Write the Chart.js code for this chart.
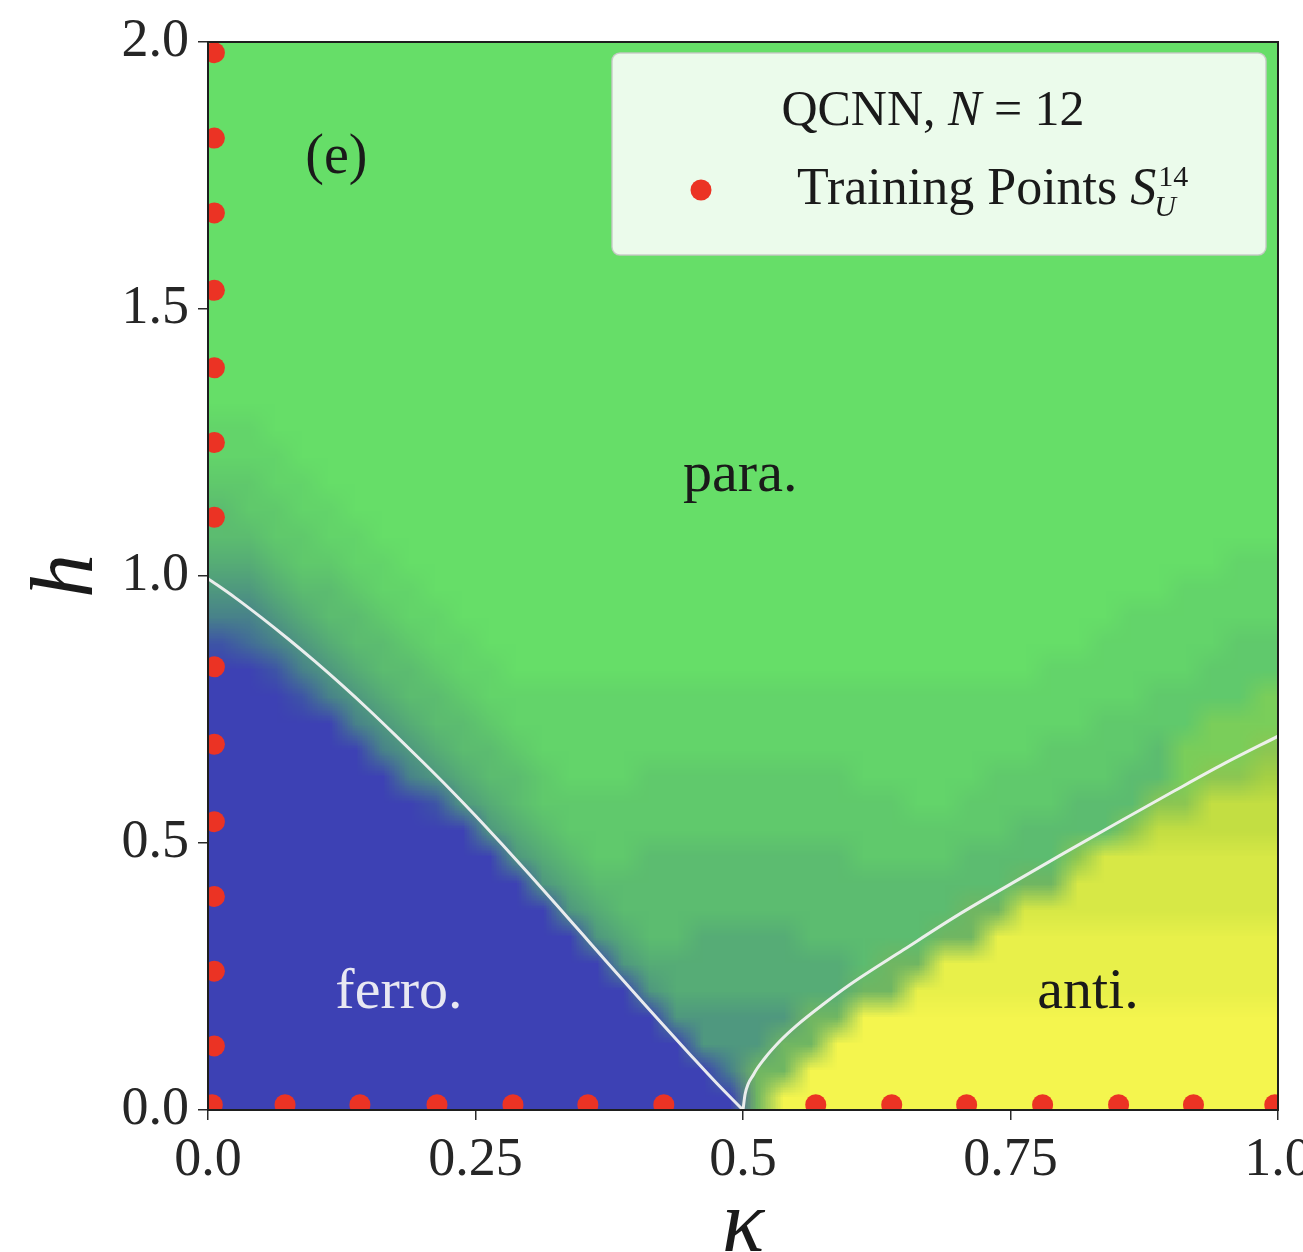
<!DOCTYPE html>
<html>
<head>
<meta charset="utf-8">
<script src="https://cdn.jsdelivr.net/npm/chart.js@4.4.1/dist/chart.umd.min.js"></script>
<style>
  html, body { margin: 0; padding: 0; background: #ffffff; }
  #wrap { width: 1303px; height: 1252px; }
</style>
</head>
<body>
<div id="wrap"><canvas id="phaseChart"></canvas></div>
<script>
// axes
const kappaRange = [0, 1];
const hRange = [0, 2];
const kappaTickLabels = ["0.0", "0.25", "0.5", "0.75", "1.0"];
const hTickLabels = ["0.0", "0.5", "1.0", "1.5", "2.0"];

// training points S_U^14 (left column at kappa ~ 0, bottom row at h ~ 0)
const trainKappa = [0.006, 0.006, 0.006, 0.006, 0.006, 0.006, 0.006, 0.006, 0.006, 0.006, 0.006, 0.006, 0.006,
                    0.004, 0.072, 0.142, 0.214, 0.285, 0.355, 0.426, 0.568, 0.639, 0.709, 0.78, 0.851, 0.921, 0.997];
const trainH = [0.12, 0.26, 0.40, 0.54, 0.685, 0.83, 1.11, 1.25, 1.39, 1.535, 1.68, 1.82, 1.98,
                0.01, 0.01, 0.01, 0.01, 0.01, 0.01, 0.01, 0.01, 0.01, 0.01, 0.01, 0.01, 0.01, 0.01];

// white phase boundaries
const ferroKappa = [0, 0.025, 0.05, 0.075, 0.1, 0.125, 0.15, 0.175, 0.2, 0.225, 0.25,
                    0.275, 0.3, 0.325, 0.35, 0.375, 0.4, 0.425, 0.45, 0.475, 0.5];
const ferroH = [0.995, 0.96, 0.922, 0.882, 0.84, 0.796, 0.75, 0.702, 0.653, 0.603, 0.551,
                0.497, 0.442, 0.386, 0.329, 0.272, 0.216, 0.16, 0.105, 0.051, 0];
const antiKappa = [0.5, 0.502, 0.51, 0.52, 0.535, 0.55, 0.575, 0.6, 0.65, 0.7, 0.75, 0.8, 0.85, 0.9, 0.95, 1.0];
const antiH = [0, 0.03, 0.067, 0.096, 0.13, 0.158, 0.198, 0.235, 0.30, 0.364, 0.423, 0.481, 0.538, 0.594, 0.649, 0.70];

// phase labels
const regionText = ["(e)", "para.", "ferro.", "anti."];
const regionKappa = [0.091, 0.444, 0.119, 0.775];
const regionH = [1.755, 1.16, 0.191, 0.191];

// predicted phase map: 40 x 40 cells, kappa step 0.025, h step 0.05, first row is the top (h = 2)
// B blue (ferro), 1..8 blue -> green, G green (para), n..Y green -> yellow (anti), o olive
const phaseRows = [
  "GGGGGGGGGG GGGGGGGGGG GGGGGGGGGG GGGGGGGGGG",
  "GGGGGGGGGG GGGGGGGGGG GGGGGGGGGG GGGGGGGGGG",
  "GGGGGGGGGG GGGGGGGGGG GGGGGGGGGG GGGGGGGGGG",
  "GGGGGGGGGG GGGGGGGGGG GGGGGGGGGG GGGGGGGGGG",
  "GGGGGGGGGG GGGGGGGGGG GGGGGGGGGG GGGGGGGGGG",
  "GGGGGGGGGG GGGGGGGGGG GGGGGGGGGG GGGGGGGGGG",
  "GGGGGGGGGG GGGGGGGGGG GGGGGGGGGG GGGGGGGGGG",
  "GGGGGGGGGG GGGGGGGGGG GGGGGGGGGG GGGGGGGGGG",
  "GGGGGGGGGG GGGGGGGGGG GGGGGGGGGG GGGGGGGGGG",
  "GGGGGGGGGG GGGGGGGGGG GGGGGGGGGG GGGGGGGGGG",
  "GGGGGGGGGG GGGGGGGGGG GGGGGGGGGG GGGGGGGGGG",
  "GGGGGGGGGG GGGGGGGGGG GGGGGGGGGG GGGGGGGGGG",
  "GGGGGGGGGG GGGGGGGGGG GGGGGGGGGG GGGGGGGGGG",
  "GGGGGGGGGG GGGGGGGGGG GGGGGGGGGG GGGGGGGGGG",
  "88GGGGGGGG GGGGGGGGGG GGGGGGGGGG GGGGGGGGGG",
  "888GGGGGGG GGGGGGGGGG GGGGGGGGGG GGGGGGGGGG",
  "7788GGGGGG GGGGGGGGGG GGGGGGGGGG GGGGGGGGGG",
  "67788GGGGG GGGGGGGGGG GGGGGGGGGG GGGGGGGGGG",
  "667788GGGG GGGGGGGGGG GGGGGGGGGG GGGGGGGGGG",
  "5567788GGG GGGGGGGGGG GGGGGGGGGG GGGGGGGG88",
  "44566788GG GGGGGGGGGG GGGGGGGGGG GGGGGG8888",
  "334566788G GGGGGGGGGG GGGGGGGGGG GGGG888888",
  "1234566788 GGGGGGGGGG GGGGGGGGGG GGG8888877",
  "BB13456678 8GGGGGGGGG GGGGGGGGGG G888888777",
  "BBB1345667 8888888888 8888888888 888887777n",
  "BBBBB34566 7888888888 8888888888 8887777nnn",
  "BBBBBB3456 6788888888 8888888888 877776nnnp",
  "BBBBBBB345 6678887777 7777888887 777766nppq",
  "BBBBBBBB14 5677777777 7777778877 77666pprrr",
  "BBBBBBBBBB 4567777777 7777777777 6666prrrrr",
  "BBBBBBBBBB B456776666 6666777766 66psssssss",
  "BBBBBBBBBB BB45666666 6666666666 oossssssss",
  "BBBBBBBBBB BBB4566666 66666666oo ssssssssss",
  "BBBBBBBBBB BBBB456655 5566666oot tttttttttt",
  "BBBBBBBBBB BBBBB45555 55556oottt tttttttttt",
  "BBBBBBBBBB BBBBBB4555 5555ootttt tttttttttt",
  "BBBBBBBBBB BBBBBBB444 44ooYYYYYY YYYYYYYYYY",
  "BBBBBBBBBB BBBBBBBB44 4ooYYYYYYY YYYYYYYYYY",
  "BBBBBBBBBB BBBBBBBBB3 ooYYYYYYYY YYYYYYYYYY",
  "BBBBBBBBBB BBBBBBBBBB oYYYYYYYYY YYYYYYYYYY"
];

const phaseColors = {
  B: [61, 65, 180], "1": [62, 85, 166], "2": [66, 108, 152], "3": [72, 130, 138],
  "4": [79, 152, 127], "5": [86, 172, 118], "6": [92, 188, 112], "7": [96, 201, 108],
  "8": [99, 212, 106], G: [102, 222, 104],
  n: [122, 206, 90], o: [112, 182, 98], p: [140, 198, 82], q: [165, 208, 68],
  r: [195, 222, 66], s: [215, 232, 70], t: [232, 240, 74], Y: [244, 245, 78]
};

const serif = "'Liberation Serif', 'DejaVu Serif', serif";
Chart.defaults.font.family = serif;
Chart.defaults.color = "#262626";

// draws the phase map under the datasets
const phaseMap = {
  id: "phaseMap",
  beforeDatasetsDraw(chart) {
    const { ctx, scales: { x, y } } = chart;
    const rows = phaseRows.map(r => r.replace(/ /g, ""));
    const nRows = rows.length;
    const nCols = rows[0].length;
    const off = document.createElement("canvas");
    off.width = nCols;
    off.height = nRows;
    const octx = off.getContext("2d");
    const img = octx.createImageData(nCols, nRows);
    rows.forEach((row, r) => {
      for (let c = 0; c < nCols; c++) {
        const col = phaseColors[row[c]] || phaseColors.G;
        const i = (r * nCols + c) * 4;
        img.data[i] = col[0];
        img.data[i + 1] = col[1];
        img.data[i + 2] = col[2];
        img.data[i + 3] = 255;
      }
    });
    octx.putImageData(img, 0, 0);

    const left = x.getPixelForValue(kappaRange[0]);
    const right = x.getPixelForValue(kappaRange[1]);
    const top = y.getPixelForValue(hRange[1]);
    const bottom = y.getPixelForValue(hRange[0]);
    ctx.save();
    ctx.imageSmoothingEnabled = true;
    ctx.drawImage(off, left, top, right - left, bottom - top);
    ctx.restore();
  }
};

// frame, region labels and legend on top
const overlay = {
  id: "overlay",
  afterDatasetsDraw(chart) {
    const { ctx, chartArea: a, scales: { x, y } } = chart;
    ctx.save();

    // frame
    ctx.strokeStyle = "#1e1e1e";
    ctx.lineWidth = 2;
    ctx.strokeRect(a.left, a.top, a.right - a.left, a.bottom - a.top);

    // region labels
    ctx.textBaseline = "alphabetic";
    ctx.textAlign = "left";
    regionText.forEach((t, i) => {
      ctx.font = (i === 0 ? "56px " : "58px ") + serif;
      ctx.fillStyle = t === "ferro." ? "#e8e8f2" : "#1a1a1a";
      ctx.fillText(t, x.getPixelForValue(regionKappa[i]), y.getPixelForValue(regionH[i]));
    });

    // legend box
    const w = 654, hgt = 202;
    const bx = a.right - 12 - w;
    const by = a.top + 11;
    ctx.beginPath();
    ctx.roundRect(bx, by, w, hgt, 8);
    ctx.fillStyle = "rgba(255,255,255,0.87)";
    ctx.fill();
    ctx.lineWidth = 1.5;
    ctx.strokeStyle = "rgba(200,200,200,0.9)";
    ctx.stroke();

    // legend title: QCNN, N = 12
    const roman = "50px " + serif;
    const italic = "italic 50px " + serif;
    const parts = [["QCNN, ", roman], ["N", italic], [" = 12", roman]];
    let total = 0;
    parts.forEach(p => { ctx.font = p[1]; total += ctx.measureText(p[0]).width; });
    let tx = bx + w / 2 - total / 2 - 6;
    ctx.fillStyle = "#1a1a1a";
    parts.forEach(p => {
      ctx.font = p[1];
      ctx.fillText(p[0], tx, by + 72);
      tx += ctx.measureText(p[0]).width;
    });

    // legend entry
    ctx.beginPath();
    ctx.arc(bx + 89, by + 137, 10.5, 0, Math.PI * 2);
    ctx.fillStyle = "#eb3324";
    ctx.fill();
    ctx.fillStyle = "#1a1a1a";
    ctx.font = "52px " + serif;
    const lbl = chart.data.datasets[0].label + " ";
    let ex = bx + 185;
    const ey = by + 151;
    ctx.fillText(lbl, ex, ey);
    ex += ctx.measureText(lbl).width;
    ctx.font = "italic 52px " + serif;
    ctx.fillText("S", ex, ey);
    ex += ctx.measureText("S").width + 2;
    ctx.font = "30px " + serif;
    ctx.fillText("14", ex, ey - 18);
    ctx.font = "italic 30px " + serif;
    ctx.fillText("U", ex - 4, ey + 12);

    ctx.restore();
  }
};

const trainPoints = trainKappa.map((k, i) => ({ x: k, y: trainH[i] }));
const ferroLine = ferroKappa.map((k, i) => ({ x: k, y: ferroH[i] }));
const antiLine = antiKappa.map((k, i) => ({ x: k, y: antiH[i] }));

new Chart(document.getElementById("phaseChart"), {
  type: "scatter",
  data: {
    datasets: [
      {
        label: "Training Points",
        data: trainPoints,
        pointRadius: 10.5,
        pointHoverRadius: 10.5,
        pointBackgroundColor: "#eb3324",
        pointBorderWidth: 0,
        clip: 0
      },
      {
        label: "ferro boundary",
        data: ferroLine,
        showLine: true,
        pointRadius: 0,
        borderColor: "rgba(242,242,242,0.95)",
        borderWidth: 3,
        cubicInterpolationMode: "monotone"
      },
      {
        label: "anti boundary",
        data: antiLine,
        showLine: true,
        pointRadius: 0,
        borderColor: "rgba(242,242,242,0.95)",
        borderWidth: 3,
        cubicInterpolationMode: "monotone"
      }
    ]
  },
  options: {
    responsive: true,
    maintainAspectRatio: false,
    devicePixelRatio: 1,
    animation: false,
    events: [],
    layout: { padding: { top: 42, right: 25, left: 0, bottom: 0 } },
    plugins: {
      legend: { display: false },
      tooltip: { enabled: false }
    },
    scales: {
      x: {
        type: "linear",
        min: kappaRange[0],
        max: kappaRange[1],
        afterFit(scale) {
          scale.height = 142;
          scale.paddingLeft = 0;
          scale.paddingRight = 0;
        },
        ticks: {
          stepSize: 0.25,
          autoSkip: false,
          maxRotation: 0,
          padding: 8,
          font: { size: 54 },
          callback: (v, i) => kappaTickLabels[i]
        },
        grid: { drawOnChartArea: false, drawTicks: true, tickLength: 10, color: "#2a2a2a", lineWidth: 1.5 },
        border: { display: false },
        title: {
          display: true,
          text: "κ",
          font: { size: 88, style: "italic", lineHeight: 0.5 },
          color: "#1a1a1a",
          padding: { top: 0, bottom: 2 }
        }
      },
      y: {
        type: "linear",
        min: hRange[0],
        max: hRange[1],
        afterFit(scale) {
          scale.width = 208;
          scale.paddingTop = 0;
          scale.paddingBottom = 0;
        },
        ticks: {
          stepSize: 0.5,
          autoSkip: false,
          padding: 9,
          font: { size: 54 },
          callback: (v, i) => hTickLabels[i]
        },
        grid: { drawOnChartArea: false, drawTicks: true, tickLength: 10, color: "#2a2a2a", lineWidth: 1.5 },
        border: { display: false },
        title: {
          display: true,
          text: "h",
          font: { size: 88, style: "italic", lineHeight: 1 },
          color: "#1a1a1a",
          padding: { top: 25, bottom: 0 }
        }
      }
    }
  },
  plugins: [phaseMap, overlay]
});
</script>
</body>
</html>
